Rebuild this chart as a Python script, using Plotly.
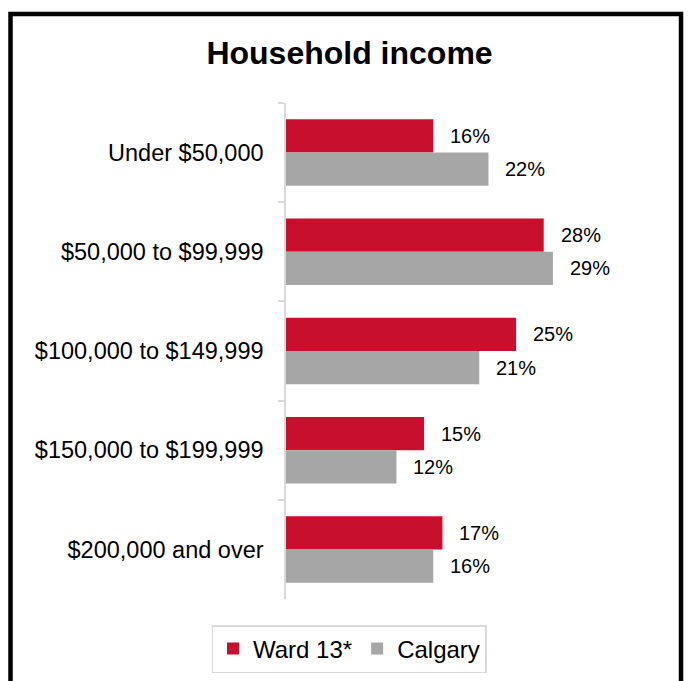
import plotly.graph_objects as go

categories = ["Under $50,000", "$50,000 to $99,999", "$100,000 to $149,999",
              "$150,000 to $199,999", "$200,000 and over"]
ward13 = [16, 28, 25, 15, 17]
calgary = [22, 29, 21, 12, 16]

RED = "#C8102E"
GREY = "#A6A6A6"
FONT = "Liberation Sans, Arial, sans-serif"

W, H = 692, 681
L, R, T, B = 286, 36, 103, 82
pw, ph = W - L - R, H - T - B

fig = go.Figure()
fig.add_trace(go.Bar(y=categories, x=ward13, name="Ward 13*", orientation="h",
                     marker=dict(color=RED, line=dict(width=0))))
fig.add_trace(go.Bar(y=categories, x=calgary, name="Calgary", orientation="h",
                     marker=dict(color=GREY, line=dict(width=0))))

# value labels beside each bar end
bargap = 0.33
half = (1 - bargap) / 4
for i, cat in enumerate(categories):
    for val, off in ((ward13[i], -half), (calgary[i], half)):
        fig.add_annotation(x=val, y=i + off, yref="y", xref="x", text=f"{val}%",
                           showarrow=False, xanchor="left", xshift=15,
                           font=dict(family=FONT, size=20, color="#000"))

# outer frame
def px_x(p):
    return (p - L) / pw

def px_y(p):
    return (H - B - p) / ph

fig.add_shape(type="rect", xref="paper", yref="paper",
              x0=px_x(10.5), x1=px_x(681), y0=px_y(720), y1=px_y(14),
              line=dict(color="#000", width=4.5), fillcolor="rgba(0,0,0,0)",
              layer="above")

fig.update_layout(
    width=W, height=H,
    margin=dict(l=L, r=R, t=T, b=B, autoexpand=False),
    paper_bgcolor="white", plot_bgcolor="white",
    barmode="group", bargap=bargap, bargroupgap=0,
    title=dict(text="<b>Household income</b>", x=349.5 / W, xref="container",
               xanchor="center", y=1 - 53 / H, yanchor="middle",
               font=dict(family=FONT, size=32, color="#000")),
    font=dict(family=FONT, color="#000"),
    showlegend=True,
    legend=dict(orientation="h", x=px_x(349), xanchor="center", y=px_y(625), yanchor="top",
                bordercolor="#D9D9D9", borderwidth=1.5, tracegroupgap=0,
                font=dict(family=FONT, size=24, color="#000"),
                traceorder="normal", itemwidth=30),
    xaxis=dict(range=[0, 40.2], visible=False, fixedrange=True),
    yaxis=dict(type="category", autorange="reversed", showline=True,
               linecolor="#D9D9D9", linewidth=1.5, ticks="outside", tickson="boundaries",
               ticklen=6, tickcolor="#D9D9D9", tickwidth=1.5, showgrid=False,
               ticklabelstandoff=16,
               tickfont=dict(family=FONT, size=23.5, color="#000")),
)

fig.write_html("out.html")
